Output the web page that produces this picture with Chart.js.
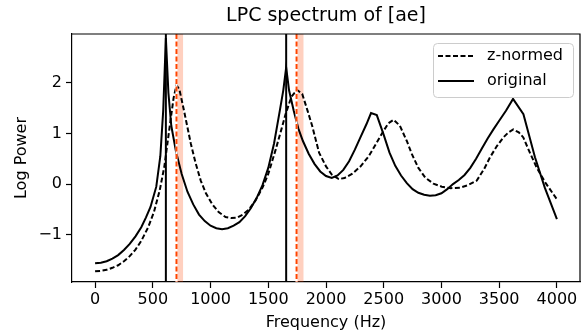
<!DOCTYPE html>
<html>
<head>
<meta charset="utf-8">
<script src="https://cdn.jsdelivr.net/npm/chart.js@4/dist/chart.umd.min.js"></script>
<style>
  html, body { margin: 0; padding: 0; background: #fff; }
  #wrap { width: 581px; height: 333px; position: relative; }
</style>
</head>
<body>
<div id="wrap"><canvas id="c" width="581" height="333"></canvas></div>
<script>
// ---- Data ----
const titleText = 'LPC spectrum of [ae]';
const xLabel = 'Frequency (Hz)';
const yLabel = 'Log Power';
const xTicks = [0, 500, 1000, 1500, 2000, 2500, 3000, 3500, 4000];
const yTicks = [-1, 0, 1, 2];

const freqOriginal = [0, 50, 100, 150, 200, 250, 300, 350, 400, 440, 480, 530, 565, 590, 613, 635, 660, 700, 750, 800, 850, 900, 950, 1000, 1050, 1100, 1150, 1200, 1250, 1300, 1350, 1400, 1450, 1500, 1550, 1600, 1630, 1655, 1680, 1720, 1760, 1800, 1850, 1900, 1950, 2000, 2050, 2100, 2150, 2200, 2250, 2300, 2350, 2390, 2440, 2500, 2550, 2600, 2650, 2700, 2750, 2800, 2850, 2900, 2950, 3000, 3050, 3100, 3150, 3200, 3250, 3300, 3350, 3400, 3450, 3500, 3560, 3620, 3710, 3810, 3895, 4000];
const powerOriginal = [-1.56, -1.55, -1.52, -1.47, -1.40, -1.30, -1.18, -1.03, -0.85, -0.66, -0.45, -0.05, 0.55, 1.45, 2.88, 1.80, 1.15, 0.65, 0.20, -0.15, -0.40, -0.60, -0.73, -0.82, -0.87, -0.89, -0.87, -0.82, -0.75, -0.63, -0.47, -0.27, -0.02, 0.32, 0.80, 1.45, 1.85, 2.30, 1.85, 1.45, 1.10, 0.85, 0.60, 0.40, 0.25, 0.16, 0.12, 0.17, 0.28, 0.45, 0.68, 0.93, 1.18, 1.40, 1.36, 0.97, 0.62, 0.36, 0.17, 0.02, -0.10, -0.17, -0.21, -0.23, -0.22, -0.18, -0.10, 0.00, 0.08, 0.18, 0.32, 0.50, 0.70, 0.90, 1.08, 1.25, 1.45, 1.68, 1.38, 0.53, -0.07, -0.69];

const freqZNormed = [0, 50, 100, 150, 200, 250, 300, 350, 400, 460, 510, 560, 600, 650, 680, 705, 730, 770, 800, 830, 870, 915, 960, 1016, 1070, 1130, 1180, 1230, 1280, 1333, 1390, 1450, 1500, 1564, 1610, 1650, 1700, 1748, 1794, 1840, 1880, 1940, 2000, 2050, 2110, 2160, 2225, 2300, 2370, 2430, 2485, 2540, 2586, 2640, 2700, 2744, 2800, 2859, 2930, 3003, 3080, 3162, 3230, 3306, 3370, 3421, 3480, 3536, 3580, 3622, 3670, 3709, 3760, 3824, 3900, 4000];
const powerZNormed = [-1.72, -1.71, -1.69, -1.65, -1.60, -1.52, -1.42, -1.29, -1.12, -0.85, -0.55, -0.12, 0.35, 1.20, 1.70, 1.95, 1.87, 1.45, 1.12, 0.79, 0.42, 0.07, -0.18, -0.40, -0.55, -0.65, -0.67, -0.66, -0.60, -0.50, -0.32, -0.07, 0.20, 0.68, 1.05, 1.38, 1.72, 1.86, 1.78, 1.45, 1.15, 0.62, 0.35, 0.19, 0.10, 0.12, 0.20, 0.35, 0.55, 0.78, 1.00, 1.20, 1.27, 1.15, 0.85, 0.59, 0.32, 0.13, 0.01, -0.05, -0.08, -0.07, -0.02, 0.07, 0.30, 0.53, 0.75, 0.92, 1.02, 1.08, 1.02, 0.92, 0.65, 0.33, 0.03, -0.30];

const formantsOriginal = [613, 1655];
const formantsZNormed = [705, 1745];
const bandLow = [705, 1745];
const bandHigh = [762, 1805];

const xMin = -200, xMax = 4200;
const yMin = -1.93, yMax = 2.96;

// ---- Chart ----
const FONT = 'DejaVu Sans';
const toXY = (xs, ys) => xs.map((x, i) => ({ x: x, y: ys[i] }));

const decor = {
  id: 'decor',
  beforeDatasetsDraw(chart) {
    const { ctx, chartArea: a, scales: { x } } = chart;
    ctx.save();
    ctx.fillStyle = 'rgba(255,69,0,0.25)';
    for (let i = 0; i < bandLow.length; i++) {
      const x0 = x.getPixelForValue(bandLow[i]);
      const x1 = x.getPixelForValue(bandHigh[i]);
      ctx.fillRect(x0, a.top, x1 - x0, a.bottom - a.top);
    }
    ctx.restore();
  },
  afterDatasetsDraw(chart) {
    const { ctx, chartArea: a, scales: { x } } = chart;
    ctx.save();
    ctx.strokeStyle = '#000';
    ctx.lineWidth = 2;
    formantsOriginal.forEach(f => {
      const px = x.getPixelForValue(f);
      ctx.beginPath(); ctx.moveTo(px, a.top); ctx.lineTo(px, a.bottom); ctx.stroke();
    });
    formantsZNormed.forEach(f => {
      const px = x.getPixelForValue(f);
      ctx.setLineDash([]);
      ctx.strokeStyle = '#fff';
      ctx.lineWidth = 2;
      ctx.beginPath(); ctx.moveTo(px, a.top); ctx.lineTo(px, a.bottom); ctx.stroke();
      ctx.setLineDash([5, 2.5]);
      ctx.strokeStyle = '#ff4500';
      ctx.beginPath(); ctx.moveTo(px, a.top); ctx.lineTo(px, a.bottom); ctx.stroke();
    });
    ctx.setLineDash([]);
    ctx.strokeStyle = '#000';
    ctx.lineWidth = 1.2;
    ctx.beginPath();
    ctx.moveTo(a.left, a.top); ctx.lineTo(a.right, a.top); ctx.lineTo(a.right, a.bottom);
    ctx.stroke();
    ctx.fillStyle = '#000';
    ctx.font = '19px "' + FONT + '"';
    ctx.textAlign = 'center';
    ctx.textBaseline = 'middle';
    ctx.fillText(titleText, (a.left + a.right) / 2, 16);
    const lx = 433, ly = 43, lw = 140, lh = 54, r = 4;
    ctx.fillStyle = 'rgba(255,255,255,0.8)';
    ctx.strokeStyle = '#cccccc';
    ctx.lineWidth = 1;
    ctx.beginPath();
    ctx.roundRect(lx + 0.5, ly + 0.5, lw, lh, r);
    ctx.fill(); ctx.stroke();
    const items = [
      { label: 'z-normed', dash: [5, 2.5], y: 56 },
      { label: 'original', dash: [], y: 81 }
    ];
    ctx.font = '16px "' + FONT + '"';
    ctx.textAlign = 'left';
    items.forEach(it => {
      ctx.strokeStyle = '#000';
      ctx.lineWidth = 2;
      ctx.setLineDash(it.dash);
      ctx.beginPath(); ctx.moveTo(438, it.y); ctx.lineTo(474, it.y); ctx.stroke();
      ctx.setLineDash([]);
      ctx.fillStyle = '#000';
      ctx.fillText(it.label, 487, it.y);
    });
    ctx.restore();
  }
};

new Chart(document.getElementById('c'), {
  type: 'line',
  data: {
    datasets: [
      {
        label: 'z-normed',
        data: toXY(freqZNormed, powerZNormed),
        borderColor: '#000',
        borderWidth: 2,
        borderDash: [5, 2.5],
        pointRadius: 0,
        tension: 0,
        fill: false
      },
      {
        label: 'original',
        data: toXY(freqOriginal, powerOriginal),
        borderColor: '#000',
        borderWidth: 2,
        pointRadius: 0,
        tension: 0,
        fill: false
      }
    ]
  },
  options: {
    responsive: false,
    animation: false,
    devicePixelRatio: 1,
    layout: { padding: { top: 34, right: 1, left: 0, bottom: 0 } },
    plugins: { legend: { display: false }, title: { display: false }, tooltip: { enabled: false } },
    scales: {
      x: {
        type: 'linear',
        min: xMin, max: xMax,
        afterBuildTicks: s => { s.ticks = xTicks.map(v => ({ value: v })); },
        afterFit: s => { s.height = 51; },
        grid: { drawOnChartArea: false, drawTicks: true, tickLength: 6, color: '#000', tickWidth: 1.2 },
        border: { color: '#000', width: 1.2 },
        ticks: { font: { family: FONT, size: 16 }, color: '#000', padding: 2, maxRotation: 0, autoSkip: false,
                 callback: v => String(v) },
        title: { display: true, text: xLabel, font: { family: FONT, size: 16 }, color: '#000', padding: { top: 0, bottom: 1 } }
      },
      y: {
        type: 'linear',
        min: yMin, max: yMax,
        afterBuildTicks: s => { s.ticks = yTicks.map(v => ({ value: v })); },
        afterFit: s => { s.width = 72; },
        grid: { drawOnChartArea: false, drawTicks: true, tickLength: 6, color: '#000', tickWidth: 1.2 },
        border: { color: '#000', width: 1.2 },
        ticks: { font: { family: FONT, size: 16 }, color: '#000', padding: 4,
                 callback: v => v < 0 ? '\u2212' + Math.abs(v) : String(v) },
        title: { display: true, text: yLabel, font: { family: FONT, size: 16 }, color: '#000', padding: { top: 12, bottom: 0 } }
      }
    }
  },
  plugins: [decor]
});
</script>
</body>
</html>
